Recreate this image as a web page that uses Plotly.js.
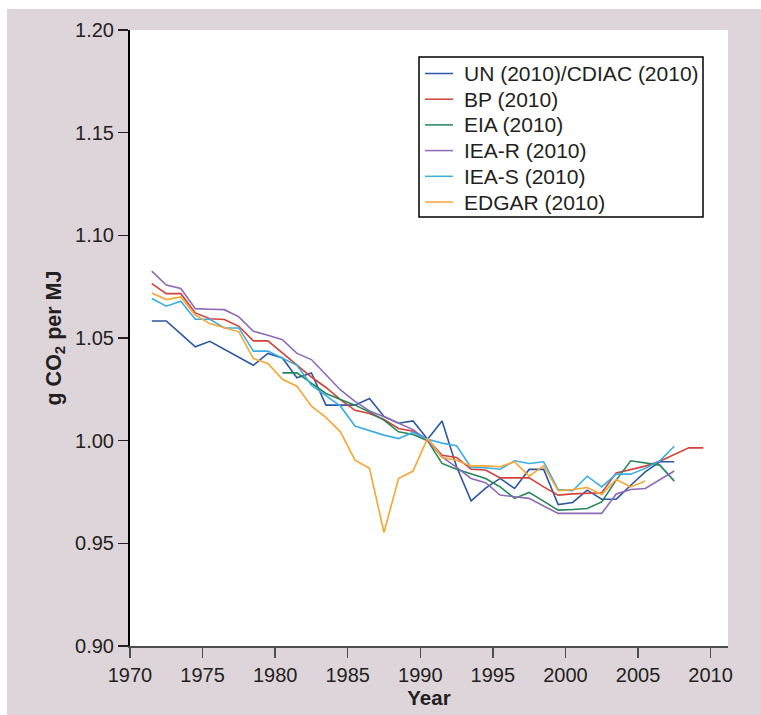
<!DOCTYPE html>
<html>
<head>
<meta charset="utf-8">
<script src="https://cdn.plot.ly/plotly-3.0.1.min.js"></script>
<style>
  html, body { margin: 0; padding: 0; background: #ffffff; width: 761px; height: 715px; overflow: hidden; }
  #chart { position: absolute; left: 7px; top: 9px; width: 754px; height: 706px; }
</style>
</head>
<body>
<div id="chart"></div>
<script>
// Years (data plotted at mid-year)
const yearsUN    = [1971,1972,1973,1974,1975,1976,1977,1978,1979,1980,1981,1982,1983,1984,1985,1986,1987,1988,1989,1990,1991,1992,1993,1994,1995,1996,1997,1998,1999,2000,2001,2002,2003,2004,2005,2006,2007];
const valuesUN   = [1.0583,1.0583,1.0520,1.0457,1.0484,1.0445,1.0406,1.0367,1.0425,1.0403,1.0306,1.0330,1.0173,1.0173,1.0173,1.0205,1.0118,1.0085,1.0096,1.0007,1.0096,0.9873,0.9707,0.9769,0.9816,0.9767,0.9860,0.9860,0.9689,0.9699,0.9759,0.9715,0.9715,0.9783,0.9848,0.9897,0.9897];

const yearsBP    = [1971,1972,1973,1974,1975,1976,1977,1978,1979,1980,1981,1982,1983,1984,1985,1986,1987,1988,1989,1990,1991,1992,1993,1994,1995,1996,1997,1998,1999,2000,2001,2002,2003,2004,2005,2006,2007,2008,2009];
const valuesBP   = [1.0765,1.0716,1.0716,1.0622,1.0594,1.0590,1.0557,1.0486,1.0486,1.0427,1.0367,1.0310,1.0259,1.0200,1.0148,1.0132,1.0103,1.0059,1.0046,1.0007,0.9929,0.9918,0.9861,0.9857,0.9819,0.9819,0.9819,0.9775,0.9735,0.9741,0.9745,0.9746,0.9843,0.9861,0.9876,0.9900,0.9933,0.9965,0.9965];

const yearsEIA   = [1980,1981,1982,1983,1984,1985,1986,1987,1988,1989,1990,1991,1992,1993,1994,1995,1996,1997,1998,1999,2000,2001,2002,2003,2004,2005,2006,2007];
const valuesEIA  = [1.0330,1.0330,1.0280,1.0230,1.0200,1.0173,1.0140,1.0100,1.0043,1.0030,1.0000,0.9889,0.9861,0.9840,0.9816,0.9775,0.9719,0.9748,0.9706,0.9662,0.9665,0.9670,0.9702,0.9808,0.9902,0.9892,0.9881,0.9803];

const yearsIEAR  = [1971,1972,1973,1974,1975,1976,1977,1978,1979,1980,1981,1982,1983,1984,1985,1986,1987,1988,1989,1990,1991,1992,1993,1994,1995,1996,1997,1998,1999,2000,2001,2002,2003,2004,2005,2006,2007];
const valuesIEAR = [1.0826,1.0758,1.0741,1.0643,1.0640,1.0638,1.0603,1.0533,1.0513,1.0492,1.0425,1.0395,1.0321,1.0247,1.0191,1.0145,1.0116,1.0084,1.0054,1.0000,0.9921,0.9870,0.9816,0.9795,0.9735,0.9727,0.9719,0.9682,0.9646,0.9646,0.9646,0.9646,0.9740,0.9762,0.9767,0.9809,0.9852];

const yearsIEAS  = [1971,1972,1973,1974,1975,1976,1977,1978,1979,1980,1981,1982,1983,1984,1985,1986,1987,1988,1989,1990,1991,1992,1993,1994,1995,1996,1997,1998,1999,2000,2001,2002,2003,2004,2005,2006,2007];
const valuesIEAS = [1.0692,1.0655,1.0679,1.0591,1.0591,1.0549,1.0549,1.0436,1.0436,1.0403,1.0367,1.0270,1.0221,1.0168,1.0071,1.0048,1.0027,1.0010,1.0040,1.0007,0.9988,0.9975,0.9870,0.9868,0.9861,0.9902,0.9889,0.9897,0.9762,0.9756,0.9827,0.9775,0.9837,0.9837,0.9865,0.9902,0.9973];

const yearsEDGAR  = [1971,1972,1973,1974,1975,1976,1977,1978,1979,1980,1981,1982,1983,1984,1985,1986,1987,1988,1989,1990,1991,1992,1993,1994,1995,1996,1997,1998,1999,2000,2001,2002,2003,2004,2005];
const valuesEDGAR = [1.0719,1.0687,1.0700,1.0611,1.0570,1.0551,1.0530,1.0400,1.0376,1.0299,1.0265,1.0168,1.0113,1.0043,0.9905,0.9865,0.9553,0.9816,0.9852,1.0011,0.9918,0.9905,0.9877,0.9877,0.9873,0.9897,0.9827,0.9877,0.9756,0.9762,0.9772,0.9738,0.9811,0.9775,0.9804];

const seriesNames = ['UN (2010)/CDIAC (2010)','BP (2010)','EIA (2010)','IEA-R (2010)','IEA-S (2010)','EDGAR (2010)'];
const xTickVals = [1970,1975,1980,1985,1990,1995,2000,2005,2010];
const yTickVals = [0.90,0.95,1.00,1.05,1.10,1.15,1.20];

const colors = ['#2b57a3','#d2423b','#23875a','#8d6ab7','#3aaee3','#f8a532'];
const allYears = [yearsUN, yearsBP, yearsEIA, yearsIEAR, yearsIEAS, yearsEDGAR];
const allValues = [valuesUN, valuesBP, valuesEIA, valuesIEAR, valuesIEAS, valuesEDGAR];

const traces = seriesNames.map((name, i) => ({
  type: 'scatter',
  mode: 'lines',
  name: name,
  x: allYears[i].map(y => y + 0.5),
  y: allValues[i],
  line: { color: colors[i], width: 1.6 },
  hoverinfo: 'skip',
  showlegend: false
}));

const fontFamily = '"Liberation Sans", Arial, Helvetica, sans-serif';
const textColor = '#231f20';

// Plot geometry (pixels within the figure)
const W = 754, H = 706;
const M = { l: 123, r: 33, t: 21, b: 69 };
const plotW = W - M.l - M.r, plotH = H - M.t - M.b;
const px2x = px => (px - M.l) / plotW;
const py2y = py => 1 - (py - M.t) / plotH;

// Hand-built legend box (position in pixels)
const legBox = { x0: 412, x1: 696, y0: 48, y1: 208 };
const legRow0 = 64.5, legRowGap = 25.7;
const legSample = { x0: 418, x1: 446 }, legTextX = 455;

const shapes = [{
  type: 'rect', xref: 'paper', yref: 'paper',
  x0: px2x(legBox.x0), x1: px2x(legBox.x1), y0: py2y(legBox.y0), y1: py2y(legBox.y1),
  fillcolor: '#ffffff', line: { color: '#000000', width: 1.5 }, layer: 'above'
}];
const annotations = [];
seriesNames.forEach((name, i) => {
  const cy = legRow0 + i * legRowGap;
  shapes.push({
    type: 'line', xref: 'paper', yref: 'paper',
    x0: px2x(legSample.x0), x1: px2x(legSample.x1), y0: py2y(cy), y1: py2y(cy),
    line: { color: colors[i], width: 1.5 }, layer: 'above'
  });
  annotations.push({
    xref: 'paper', yref: 'paper', x: px2x(legTextX), y: py2y(cy),
    xanchor: 'left', yanchor: 'middle', showarrow: false,
    text: name, font: { family: fontFamily, size: 21, color: textColor }
  });
});

const layout = {
  width: W,
  height: H,
  paper_bgcolor: '#ded5db',
  plot_bgcolor: '#ffffff',
  margin: M,
  font: { family: fontFamily, color: textColor, size: 20 },
  showlegend: false,
  shapes: shapes,
  annotations: annotations,
  xaxis: {
    range: [1970, 2011.2],
    tickvals: xTickVals,
    ticktext: xTickVals.map(String),
    ticks: 'outside', ticklen: 10, tickwidth: 1.5, tickcolor: '#4d4d4d',
    showline: true, linecolor: '#4d4d4d', linewidth: 2,
    showgrid: false, zeroline: false,
    tickfont: { size: 20, color: textColor },
    title: { text: '<b>Year</b>', font: { size: 20.5, color: textColor }, standoff: 4 }
  },
  yaxis: {
    range: [0.9, 1.2],
    tickvals: yTickVals,
    ticktext: yTickVals.map(v => v.toFixed(2)),
    ticks: 'outside', ticklen: 10, tickwidth: 1.5, tickcolor: textColor,
    showline: true, linecolor: '#000000', linewidth: 2,
    showgrid: false, zeroline: false,
    tickfont: { size: 20, color: textColor },
    title: { text: '<b>g CO<sub>2</sub> per MJ</b>', font: { size: 21.5, color: textColor }, standoff: 8 }
  }
};

Plotly.newPlot('chart', traces, layout, { displayModeBar: false, staticPlot: true });
</script>
</body>
</html>
